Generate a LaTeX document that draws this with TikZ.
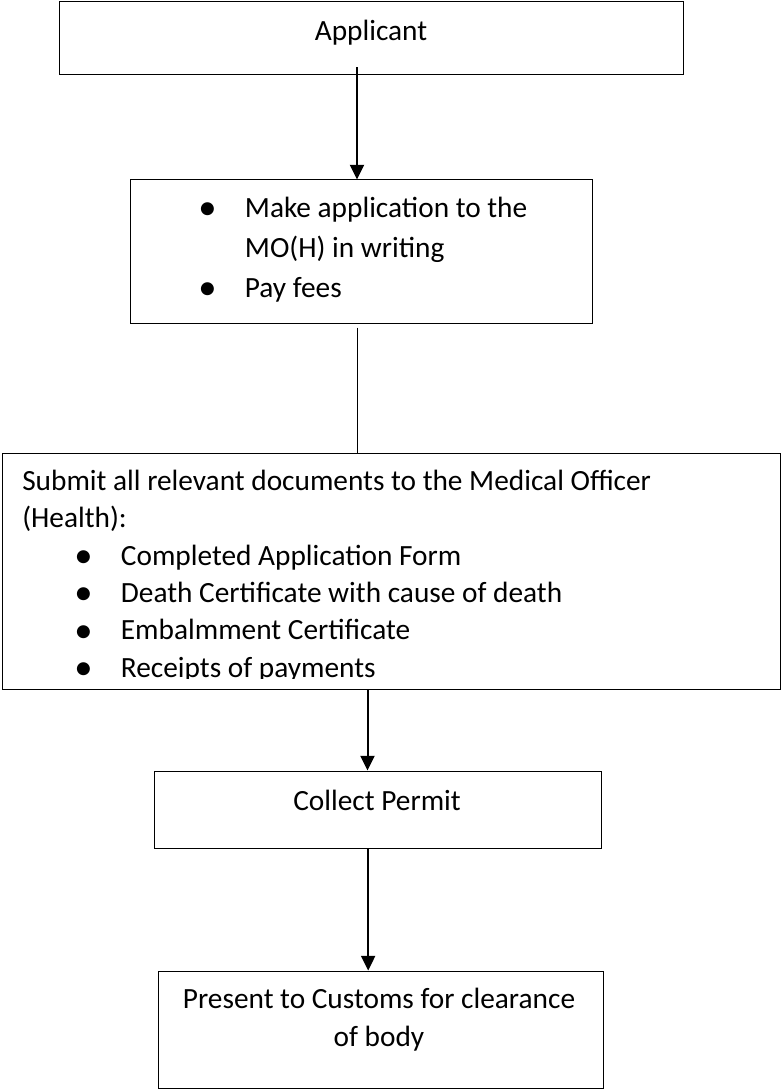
\documentclass[tikz,border=0pt]{standalone}
\usepackage{fontspec}
\setmainfont{Carlito}
\usepackage{tikz}
\usetikzlibrary{positioning, arrows.meta}
\tikzset{
x=0.75pt, y=-0.75pt, % one unit is one pixel of the page, y runs down
stepbox/.style={draw, line width=0.75pt, inner sep=0pt}, % the frame of a step
steptext/.style={inner sep=0pt, font=\fontsize{22}{28}\selectfont}, % the words in a step
flow/.style={-{Triangle[width=10.5pt,length=11pt]}, line width=1.5pt}, % arrow from step to step
link/.style={line width=0.75pt}, % plain line from step to step
}
\newcommand{\stepitem}[1]{\makebox[35pt][l]{\raisebox{-1.8pt}{\scalebox{1.25}{\textbullet}}}#1}

\begin{document}
\begin{tikzpicture}
                \useasboundingbox (0,0) rectangle (781,1091);
                \node[stepbox, minimum width=468pt, minimum height=54.75pt] (applicant) at (371,38.5) {};
                \node[stepbox, minimum width=346.5pt, minimum height=107.25pt] (make) at (361,251.5) {};
                \node[stepbox, minimum width=583.5pt, minimum height=177pt] (docs) at (391,571) {};
                \node[stepbox, minimum width=335.25pt, minimum height=57.75pt] (permit) at (377.5,809.5) {};
                \node[stepbox, minimum width=333.75pt, minimum height=87.75pt] (customs) at (380.5,1029.5) {};

                % base of a text of many lines is the base of its last line
                \node[steptext, anchor=base] (applicant-text) at (371,41) {Applicant};
                \node[steptext, anchor=base west, align=left, font=\fontsize{22}{30}\selectfont] (make-text) at (198,297)
                    {\stepitem{Make application to the}\\\hspace*{35pt}MO(H) in writing\\\stepitem{Pay fees}};
                \begin{scope}
                    \clip (docs.north west) rectangle ([yshift=8.25pt]docs.south east);
                    \node[steptext, anchor=base west, align=left] (docs-text) at (22,677)
                        {Submit all relevant documents to the Medical Officer\\(Health):\\
                         \hspace*{39pt}\stepitem{Completed Application Form}\\
                         \hspace*{39pt}\stepitem{Death Certificate with cause of death}\\
                         \hspace*{39pt}\stepitem{Embalmment Certificate}\\
                         \hspace*{39pt}\stepitem{Receipts of payments}};
                \end{scope}
                \node[steptext, anchor=base] (permit-text) at (377,810) {Collect Permit};
                \node[steptext, anchor=base, align=center] (customs-text) at (379,1046) {Present to Customs for clearance\\of body};

                \draw[flow] ([xshift=-3pt,yshift=6pt]applicant.south -| make.north) -- ([xshift=-3pt]make.north);
                \draw[link] ([xshift=-3pt,yshift=-3pt]make.south) -- ([xshift=-3pt]make.south |- docs.north);
                \draw[flow] ([xshift=-7.5pt]permit.north |- docs.south) -- ([xshift=-7.5pt]permit.north);
                \draw[flow] ([xshift=-7pt]permit.south) -- ([xshift=-7pt]permit.south |- customs.north);
            \end{tikzpicture}
\end{document}
